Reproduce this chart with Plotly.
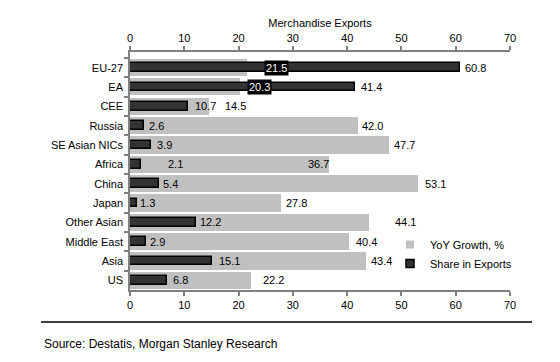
import plotly.graph_objects as go

categories = ["EU-27", "EA", "CEE", "Russia", "SE Asian NICs", "Africa", "China",
              "Japan", "Other Asian", "Middle East", "Asia", "US"]
yoy_growth = [21.5, 20.3, 14.5, 42.0, 47.7, 36.7, 53.1, 27.8, 44.1, 40.4, 43.4, 22.2]
share_exports = [60.8, 41.4, 10.7, 2.6, 3.9, 2.1, 5.4, 1.3, 12.2, 2.9, 15.1, 6.8]
x_ticks = [0, 10, 20, 30, 40, 50, 60, 70]

# label pixel offsets (styling only)
growth_label_shift = [17, 7, 14, 2, 3, -23, 5, 3, 24, 5, 3, 10]
share_label_shift = [3, 4, 5, 3, 4, 25, 2, 1, 2, 2, 5, 4]

FONT = "Liberation Sans, Arial, sans-serif"
AXIS_GRAY = "#808080"
GRAY = "#c0c0c0"
DARK = "#333333"

W, H = 544, 346
L, R, T, B = 122, 42, 44, 64
PW, PH = W - L - R, H - T - B

fig = go.Figure()
fig.add_trace(go.Bar(
    y=categories, x=yoy_growth, orientation="h", name="YoY Growth, %",
    marker=dict(color=GRAY, line=dict(width=0)), width=0.88, showlegend=False,
))
fig.add_trace(go.Bar(
    y=categories, x=share_exports, orientation="h", name="Share in Exports",
    marker=dict(color=DARK, line=dict(color="#000000", width=1.5)), width=0.45,
    showlegend=False,
))
# legend entries with small square swatches
fig.add_trace(go.Scatter(x=[None], y=[None], mode="markers", name="YoY Growth, %",
                         marker=dict(symbol="square", size=8, color=GRAY)))
fig.add_trace(go.Scatter(x=[None], y=[None], mode="markers", name="Share in Exports",
                         marker=dict(symbol="square", size=8, color=DARK,
                                     line=dict(color="black", width=1.5))))

annotations = []
for c, g, s, gs, ss in zip(categories, yoy_growth, share_exports,
                           growth_label_shift, share_label_shift):
    on_black = s > g
    annotations.append(dict(
        x=g, y=c, xref="x", yref="y", text=f"{g:.1f}", showarrow=False,
        xanchor="left", yanchor="middle", xshift=gs,
        font=dict(family=FONT, size=11, color="white" if on_black else "black"),
        bgcolor="black" if on_black else "rgba(0,0,0,0)", borderpad=1,
    ))
    annotations.append(dict(
        x=s, y=c, xref="x", yref="y", text=f"{s:.1f}", showarrow=False,
        xanchor="left", yanchor="middle", xshift=ss,
        font=dict(family=FONT, size=11, color="black"),
    ))

# page-pixel helpers for furniture outside the plot (page has 8px body margin)
def px_x(p):
    return (p - 8 - L) / PW

def px_y(p):
    return 1 - (p - 8 - T) / PH

annotations.append(dict(
    x=px_x(42), y=px_y(344), xref="paper", yref="paper",
    text="Source: Destatis, Morgan Stanley Research", showarrow=False,
    xanchor="left", yanchor="middle",
    font=dict(family=FONT, size=12, color="black"),
))

axis_common = dict(
    range=[0, 70], tickvals=x_ticks, showgrid=False, zeroline=False,
    showline=True, linecolor=AXIS_GRAY, linewidth=1.5,
    ticks="outside", ticklen=4, tickwidth=1.5, tickcolor=AXIS_GRAY,
    tickfont=dict(family=FONT, size=11, color="black"),
)

fig.update_layout(
    width=W, height=H,
    margin=dict(l=L, r=R, t=T, b=B, autoexpand=False),
    paper_bgcolor="white", plot_bgcolor="white",
    barmode="overlay", bargap=0,
    font=dict(family=FONT, size=11, color="black"),
    xaxis=dict(**axis_common, side="bottom"),
    xaxis2=dict(**axis_common, side="top", overlaying="x", matches="x",
                title=dict(text="Merchandise Exports", standoff=2,
                           font=dict(family=FONT, size=11, color="black"))),
    yaxis=dict(
        type="category", autorange="reversed", showgrid=False, zeroline=False,
        showline=True, linecolor=AXIS_GRAY, linewidth=1.5,
        ticks="outside", ticklen=4, tickwidth=1.5, tickcolor=AXIS_GRAY,
        tickson="boundaries", ticklabelstandoff=3,
        tickfont=dict(family=FONT, size=11, color="black"),
    ),
    legend=dict(x=px_x(390), y=px_y(230), xanchor="left", yanchor="top",
                bgcolor="rgba(0,0,0,0)", font=dict(family=FONT, size=11),
                tracegroupgap=0, itemwidth=30),
    annotations=annotations,
    shapes=[dict(type="line", xref="paper", yref="paper", layer="above",
                 x0=px_x(41), x1=px_x(532), y0=px_y(322), y1=px_y(322),
                 line=dict(color="black", width=1.5))],
)
# invisible trace to anchor the top axis
fig.add_trace(go.Scatter(x=[0, 70], y=[categories[0], categories[0]], xaxis="x2",
                         mode="markers", marker=dict(opacity=0), showlegend=False,
                         hoverinfo="skip"))

fig.write_html("out.html")
